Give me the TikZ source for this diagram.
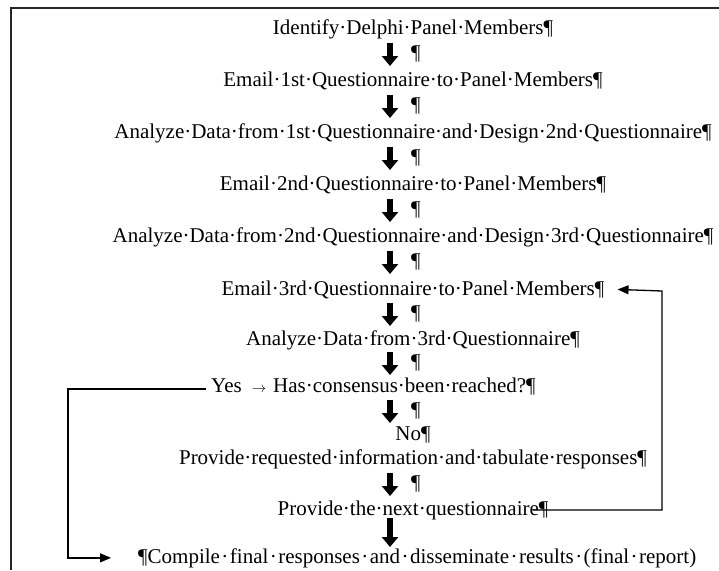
\documentclass[tikz,border=0pt]{standalone}
\usepackage{fontspec}
\setmainfont{Liberation Serif}
\usetikzlibrary{arrows.meta}

\tikzset{
  stepline/.style={font=\fontsize{21}{24}\selectfont, inner sep=0pt, anchor=base},
  pilmark/.style={font=\fontsize{21}{24}\selectfont, inner sep=0pt},
  blockarrow/.style={line width=5.5pt, -{Triangle[length=10pt,width=16pt]}},
  loopline/.style={line width=1.3pt, -{Triangle[length=11pt,width=9pt]}},
}

\begin{document}
\begin{tikzpicture}[x=1pt, y=-1pt]
    \useasboundingbox (0,0) rectangle (719,570);

    % Frame (cut off at the right and at the bottom)
    \draw[line width=1.6pt, black!85] (11,570) -- (11,8) -- (719,8);

    % The steps, one per line
    \def\mx{413}
    \node[stepline] (ident) at (\mx, 34) {Identify·Delphi·Panel·Members¶};
    \node[stepline] (emaila) at (\mx, 86) {Email·1st·Questionnaire·to·Panel·Members¶};
    \node[stepline] (anaa) at (\mx, 138) {Analyze·Data·from·1st·Questionnaire·and·Design·2nd·Questionnaire¶};
    \node[stepline] (emailb) at (\mx, 190) {Email·2nd·Questionnaire·to·Panel·Members¶};
    \node[stepline] (anab) at (\mx, 242) {Analyze·Data·from·2nd·Questionnaire·and·Design·3rd·Questionnaire¶};
    \node[stepline] (emailc) at (\mx, 295) {Email·3rd·Questionnaire·to·Panel·Members¶};
    \node[stepline] (anac) at (\mx, 345) {Analyze·Data·from·3rd·Questionnaire¶};
    \node[stepline, anchor=base west] (yes) at (211, 392)
        {Yes\hspace{10pt}$\scriptstyle\rightarrow$\hspace{7pt}Has·consensus·been·reached?¶};
    \node[stepline] (no) at (\mx, 440) {No¶};
    \node[stepline] (inform) at (\mx, 464) {Provide·requested·information·and·tabulate·responses¶};
    \node[stepline] (next) at (\mx, 515) {Provide·the·next·questionnaire¶};
    \node[stepline, anchor=base west] (compile) at (138, 563)
        {\makebox[558pt][s]{¶Compile\hfil·\hfil final\hfil·\hfil responses\hfil·\hfil and\hfil·\hfil disseminate\hfil·\hfil results\hfil·\hfil(final\hfil·\hfil report)}};

    % Empty lines between the steps: a mark and a thick arrow
    \foreach \y/\n in {54/pa, 106/pb, 158/pc, 210/pd, 262/pe, 314/pf, 363/pg, 411/ph, 484/pi}{
        \node[pilmark] (\n) at (416, \y) {¶};
        \draw[blockarrow] ([xshift=-26pt,yshift=11pt]\n.center) -- ([xshift=-26pt,yshift=-12pt]\n.center);
    }
    \coordinate (lasttop) at (390, 518);
    \draw[blockarrow] (lasttop) -- ([yshift=1pt]lasttop |- compile.north);

    % Yes: straight on to the final report
    \draw[loopline] ([xshift=-5pt]yes.west |- 0,389) -- (68, 389) |- ([xshift=-27pt]compile.west);

    % No: back to the next round
    \draw[loopline] ([xshift=-16pt]next.east |- next.center) -| (662, 291) -- ([xshift=13pt]emailc.east |- emailc.center);

\end{tikzpicture}
\end{document}
